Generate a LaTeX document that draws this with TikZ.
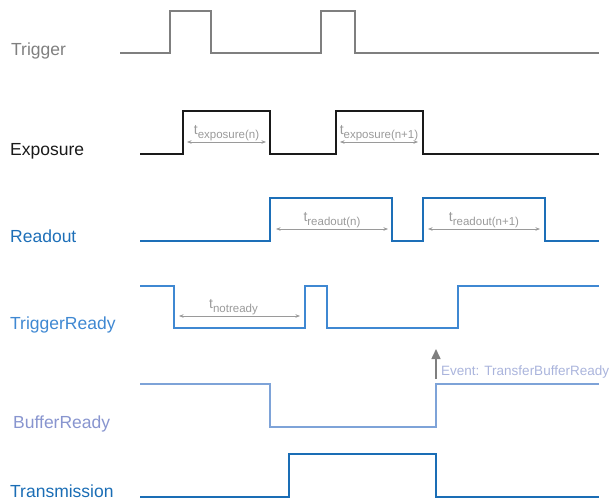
\documentclass[tikz,border=0pt]{standalone}
\usepackage{fontspec}
\setmainfont{Liberation Sans}
\usetikzlibrary{arrows.meta}

\definecolor{trigcol}{HTML}{7F7F7F}
\definecolor{expcol}{HTML}{1A1A1A}
\definecolor{readcol}{HTML}{1D6FB8}
\definecolor{trdycol}{HTML}{3F88D2}
\definecolor{bufcol}{HTML}{7EA3D8}
\definecolor{buflabcol}{HTML}{8895CF}
\definecolor{transcol}{HTML}{1A6DB5}
\definecolor{dimcol}{HTML}{9A9A9A}
\definecolor{eventcol}{HTML}{AAB4DC}

% t with a lowered, smaller index
\newcommand{\tlab}[1]{t\raisebox{-0.5ex}{\fontsize{11.5}{12}\selectfont #1}}

\tikzset{
  wave/.style={line width=1.6pt, line join=miter},
  siglabel/.style={anchor=base west, inner sep=0pt, font=\fontsize{17.5}{20}\selectfont},
  dim/.style={{Stealth[length=4.5pt,width=3.5pt]}-{Stealth[length=4.5pt,width=3.5pt]}, draw=dimcol, line width=0.6pt},
  dimlabel/.style={anchor=south, inner sep=0pt, yshift=1pt, text=dimcol, font=\fontsize{14}{14}\selectfont},
}

\begin{document}
\begin{tikzpicture}[x=1pt,y=-1pt]
\useasboundingbox (0,0) rectangle (613,501);

% Trigger
\node[siglabel, text=trigcol] (trigger) at (11,55) {Trigger};
\draw[wave, trigcol] (120,53) -- (170,53) -- (170,11) -- (211,11) -- (211,53)
  -- (321,53) -- (321,11) -- (355,11) -- (355,53) -- (599,53);

% Exposure
\node[siglabel, text=expcol] (exposure) at (10,155) {Exposure};
\draw[wave, expcol] (140,154) -- (183,154) -- (183,111) -- (270,111) -- (270,154)
  -- (336,154) -- (336,111) -- (423,111) -- (423,154) -- (599,154);

% Readout
\node[siglabel, text=readcol] (readout) at (10,242) {Readout};
\draw[wave, readcol] (140,241) -- (270,241) -- (270,198) -- (392,198) -- (392,241)
  -- (423,241) -- (423,198) -- (545,198) -- (545,241) -- (599,241);

% TriggerReady
\node[siglabel, text=trdycol] (triggerready) at (10,329) {TriggerReady};
\draw[wave, trdycol] (140,286) -- (174,286) -- (174,328) -- (305,328) -- (305,286)
  -- (327,286) -- (327,328) -- (458,328) -- (458,286) -- (599,286);

% BufferReady
\node[siglabel, text=buflabcol] (bufferready) at (13,428) {BufferReady};
\draw[wave, bufcol] (140,384) -- (270,384) -- (270,427) -- (436,427) -- (436,384) -- (599,384);

% Transmission
\node[siglabel, text=transcol] (transmission) at (10,497) {Transmission};
\draw[wave, transcol] (140,497) -- (289,497) -- (289,454) -- (436,454) -- (436,497) -- (599,497);

% durations
\foreach \xa/\xb/\yy/\sh/\lab/\nm in {187/266/142/0/exposure(n)/texpa,
    340/418/142/0/exposure(n+1)/texpb,
    276/388/229/0/readout(n)/treada,
    428/540/229/0/readout(n+1)/treadb,
    179/300/316/-6/notready/tnotrdy} {
  \coordinate (\nm-l) at (\xa,\yy);
  \coordinate (\nm-r) at (\xb,\yy);
  \draw[dim] (\nm-l) -- (\nm-r) node[midway, dimlabel, xshift=\sh] (\nm) {\tlab{\lab}};
}

% event
\coordinate (evfoot) at (436,379);
\coordinate (evtip) at (436,349);
\draw[-{Triangle[length=10pt,width=9pt]}, line width=1.5pt, trigcol] (evfoot) -- (evtip);
\node[anchor=base west, inner sep=0pt, text=eventcol, font=\fontsize{13.5}{14}\selectfont]
  (event) at (441,375) {Event: TransferBufferReady};
\end{tikzpicture}
\end{document}
